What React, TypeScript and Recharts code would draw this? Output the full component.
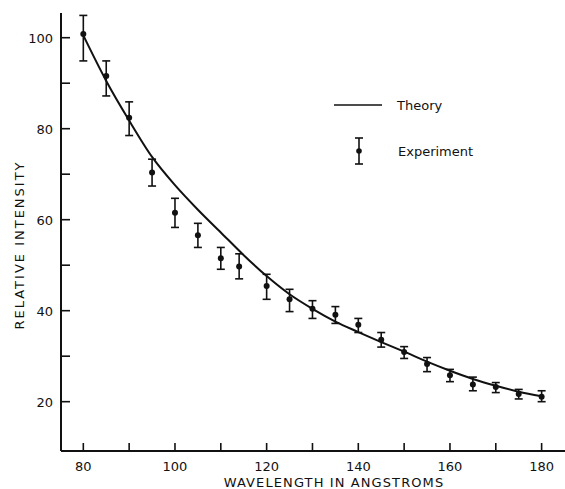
import React from "react";
import {
  ComposedChart,
  ErrorBar,
  Label,
  Legend,
  Line,
  Scatter,
  XAxis,
  YAxis,
} from "recharts";

// Theory curve, every 5 Å
const theoryWavelength = [80, 85, 90, 95, 100, 105, 110, 115, 120, 125, 130, 135, 140, 145, 150, 155, 160, 165, 170, 175, 180];
const theoryIntensity = [100.5, 90.5, 81.8, 73.8, 67.6, 62.2, 57.2, 52.2, 47.6, 43.6, 40.4, 37.6, 35.3, 33.1, 31.0, 28.8, 26.8, 25.0, 23.5, 22.2, 21.2];

// Experimental points with asymmetric error bars (deltas below / above)
const expWavelength = [80, 85, 90, 95, 100, 105, 110, 114, 120, 125, 130, 135, 140, 145, 150, 155, 160, 165, 170, 175, 180];
const expIntensity = [100.8, 91.6, 82.4, 70.4, 61.5, 56.6, 51.5, 49.7, 45.4, 42.5, 40.4, 39.1, 36.9, 33.6, 30.9, 28.3, 25.8, 23.8, 23.2, 21.7, 21.1];
const expErrLow = [5.9, 4.4, 3.9, 3.0, 3.2, 2.7, 2.4, 2.7, 2.9, 2.7, 2.1, 1.9, 1.7, 1.6, 1.4, 1.7, 1.4, 1.4, 1.2, 1.1, 1.1];
const expErrHigh = [4.1, 3.3, 3.5, 2.9, 3.2, 2.6, 2.4, 2.8, 2.6, 2.2, 1.8, 1.8, 1.4, 1.6, 1.2, 1.4, 1.3, 1.6, 1.0, 1.0, 1.3];

const xTicks = [80, 90, 100, 110, 120, 130, 140, 150, 160, 170, 180];
const yTicks = [20, 30, 40, 50, 60, 70, 80, 90, 100];
const xTitle = "WAVELENGTH IN ANGSTROMS";
const yTitle = "RELATIVE INTENSITY";
const theoryName = "Theory";
const experimentName = "Experiment";

const FONT = "'DejaVu Sans', sans-serif";
const INK = "#111";

const theoryData = theoryWavelength.map((x, i) => ({ x, y: theoryIntensity[i] }));
const expData = expWavelength.map((x, i) => ({
  x,
  y: expIntensity[i],
  err: [expErrLow[i], expErrHigh[i]],
}));

// ticks point into the plot; only every second one carries a number
function XTick(props: any) {
  const { x, y, payload } = props;
  const v = payload.value as number;
  return (
    <g>
      <line x1={x} x2={x} y1={y} y2={y - 8} stroke={INK} strokeWidth={1.6} />
      {v % 20 === 0 && (
        <text x={x} y={y + 20} textAnchor="middle" fontFamily={FONT} fontSize={13} fill={INK}>
          {v}
        </text>
      )}
    </g>
  );
}

function YTick(props: any) {
  const { x, y, payload } = props;
  const v = payload.value as number;
  return (
    <g>
      <line x1={x} x2={x + 9} y1={y} y2={y} stroke={INK} strokeWidth={1.6} />
      {v % 20 === 0 && (
        <text x={x - 8} y={y + 5} textAnchor="end" fontFamily={FONT} fontSize={13} fill={INK}>
          {v}
        </text>
      )}
    </g>
  );
}

function LegendBox() {
  return (
    <div style={{ fontFamily: FONT, fontSize: 13, color: INK }}>
      <div style={{ display: "flex", alignItems: "center", height: 26 }}>
        <svg width={63} height={10}>
          <line x1={0} x2={48} y1={5} y2={5} stroke={INK} strokeWidth={1.4} />
        </svg>
        <span>{theoryName}</span>
      </div>
      <div style={{ display: "flex", alignItems: "center", height: 30, marginTop: 18 }}>
        <svg width={64} height={30}>
          <line x1={25} x2={25} y1={2} y2={28} stroke={INK} strokeWidth={1.6} />
          <line x1={21} x2={29} y1={2} y2={2} stroke={INK} strokeWidth={1.6} />
          <line x1={21} x2={29} y1={28} y2={28} stroke={INK} strokeWidth={1.6} />
          <circle cx={25} cy={15} r={2.8} fill={INK} />
        </svg>
        <span>{experimentName}</span>
      </div>
    </div>
  );
}

export default function App() {
  return (
    <div style={{ width: 565, height: 489, background: "#fff" }}>
      <style>{"body{margin:0}"}</style>
      <ComposedChart width={565} height={489} margin={{ top: 13, right: 0, bottom: 0, left: 0 }}>
        <XAxis
          dataKey="x"
          type="number"
          domain={[75.13, 185.1]}
          allowDataOverflow
          ticks={xTicks}
          tick={<XTick />}
          tickLine={false}
          tickSize={0}
          tickMargin={0}
          height={38}
          axisLine={{ stroke: INK, strokeWidth: 2 }}
        >
          <Label
            content={(p: any) => {
              const vb = p.viewBox;
              return (
                <text
                  x={vb.x + vb.width / 2 + 21}
                  y={vb.y + 36}
                  textAnchor="middle"
                  fontFamily={FONT}
                  fontSize={13}
                  letterSpacing={1.1}
                  fill={INK}
                >
                  {xTitle}
                </text>
              );
            }}
          />
        </XAxis>
        <YAxis
          dataKey="y"
          type="number"
          domain={[9.16, 105.43]}
          allowDataOverflow
          ticks={yTicks}
          tick={<YTick />}
          tickLine={false}
          tickSize={0}
          tickMargin={0}
          width={61}
          axisLine={{ stroke: INK, strokeWidth: 2 }}
        >
          <Label
            content={(p: any) => {
              const vb = p.viewBox;
              const cx = 24;
              const cy = vb.y + vb.height / 2 + 13;
              return (
                <text
                  x={cx}
                  y={cy}
                  transform={`rotate(-90 ${cx} ${cy})`}
                  textAnchor="middle"
                  fontFamily={FONT}
                  fontSize={13}
                  letterSpacing={2}
                  fill={INK}
                >
                  {yTitle}
                </text>
              );
            }}
          />
        </YAxis>
        <Legend
          content={() => <LegendBox />}
          layout="horizontal"
          verticalAlign="middle"
          align="center"
          wrapperStyle={{ left: 334, top: 92, width: 160 }}
        />
        <Line
          data={theoryData}
          dataKey="y"
          type="monotone"
          stroke={INK}
          strokeWidth={2}
          dot={false}
          isAnimationActive={false}
        />
        <Scatter data={expData} dataKey="y" fill={INK} isAnimationActive={false} shape={(p: any) => <circle cx={p.cx} cy={p.cy} r={3} fill={INK} />}>
          <ErrorBar dataKey="err" direction="y" width={4} stroke={INK} strokeWidth={1.6} isAnimationActive={false} />
        </Scatter>
      </ComposedChart>
    </div>
  );
}
